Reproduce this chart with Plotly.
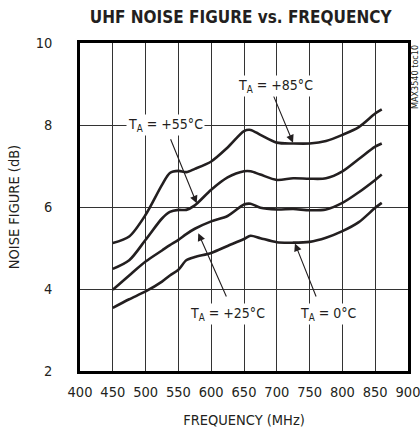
import plotly.graph_objects as go

freq = [450, 475, 500, 525, 537, 550, 562, 575, 600, 625, 650, 660, 675, 700, 725, 750, 775, 800, 825, 850, 860]
nf_85 = [5.12, 5.28, 5.81, 6.54, 6.83, 6.88, 6.85, 6.93, 7.11, 7.45, 7.85, 7.88, 7.76, 7.57, 7.55, 7.55, 7.61, 7.76, 7.95, 8.28, 8.38]
nf_55 = [4.49, 4.70, 5.20, 5.72, 5.88, 5.93, 5.93, 6.04, 6.42, 6.72, 6.87, 6.87, 6.79, 6.66, 6.70, 6.69, 6.70, 6.87, 7.17, 7.47, 7.55]
nf_25 = [3.98, 4.33, 4.67, 4.94, 5.07, 5.20, 5.34, 5.47, 5.65, 5.78, 6.06, 6.08, 5.98, 5.94, 5.95, 5.92, 5.94, 6.10, 6.36, 6.66, 6.79]
nf_0 = [3.54, 3.75, 3.94, 4.18, 4.33, 4.47, 4.70, 4.78, 4.88, 5.05, 5.22, 5.30, 5.24, 5.14, 5.13, 5.15, 5.25, 5.41, 5.63, 5.98, 6.10]

x_ticks = [400, 450, 500, 550, 600, 650, 700, 750, 800, 850, 900]
y_ticks = [2, 4, 6, 8, 10]

FONT = "DejaVu Sans Condensed, DejaVu Sans, sans-serif"

def fnt(size, weight="normal"):
    return dict(family=FONT, size=size, color="#231f20", weight=weight)

fig = go.Figure()
for name, ys in [("+85°C", nf_85), ("+55°C", nf_55), ("+25°C", nf_25), ("0°C", nf_0)]:
    fig.add_trace(go.Scatter(x=freq, y=ys, mode="lines", name=name,
                             line=dict(color="#231f20", width=2.6, shape="spline", smoothing=0.8),
                             showlegend=False))

axis_common = dict(showline=True, linewidth=2.5, linecolor="black", mirror=True,
                   showgrid=True, gridcolor="#333333", gridwidth=1, ticks="",
                   tickfont=fnt(14.5), zeroline=False, automargin=False,
                   ticklabeloverflow="allow")

fig.update_xaxes(range=[400, 900], tickvals=x_ticks, ticktext=[str(v) for v in x_ticks],
                 title=dict(text="FREQUENCY (MHz)", font=fnt(14.5), standoff=16),
                 ticklabelstandoff=6, **axis_common)
fig.update_yaxes(range=[2, 10], tickvals=y_ticks, ticktext=[str(v) for v in y_ticks],
                 title=dict(text="NOISE FIGURE (dB)", font=fnt(14.5), standoff=13),
                 ticklabelstandoff=22, **axis_common)

# arrows: (tail_x, tail_y, tip_x, tip_y)
arrows = [(694.2, 8.74, 724.7, 7.57),
          (537.2, 7.69, 577.9, 6.09),
          (624.1, 3.78, 580.3, 5.36),
          (760.8, 3.78, 727.7, 5.11)]
for tx, ty, hx, hy in arrows:
    fig.add_annotation(x=hx, y=hy, ax=tx, ay=ty, xref="x", yref="y", axref="x", ayref="y",
                       text="", showarrow=True, arrowhead=2, arrowsize=1.4, arrowwidth=1.1,
                       arrowcolor="#231f20", standoff=0, startstandoff=0)

labels = [("T<sub>A</sub> = +85°C", 697.3, 8.94),
          ("T<sub>A</sub> = +55°C", 529.6, 8.0),
          ("T<sub>A</sub> = +25°C", 625.6, 3.39),
          ("T<sub>A</sub> = 0°C", 778.8, 3.39)]
for t, x, y in labels:
    fig.add_annotation(x=x, y=y, xref="x", yref="y", text=t, showarrow=False,
                       font=fnt(14), bgcolor="white", borderpad=1)

fig.add_annotation(x=1.0, y=1.0, xref="paper", yref="paper", xanchor="center", yanchor="top",
                   xshift=7, text="MAX3540 toc10", textangle=-90, showarrow=False,
                   font=fnt(9, "normal"))

fig.update_layout(
    width=420, height=434,
    margin=dict(l=80, r=12, t=43, b=63),
    paper_bgcolor="white", plot_bgcolor="white",
    title=dict(text="<b>UHF NOISE FIGURE vs. FREQUENCY</b>", x=0.573, xanchor="center", y=0.961, yanchor="middle",
               font=fnt(17, "bold")),
)

fig.write_html("out.html", config={"displayModeBar": False},
               post_script="document.body.style.margin='0';document.body.style.overflow='hidden';")
